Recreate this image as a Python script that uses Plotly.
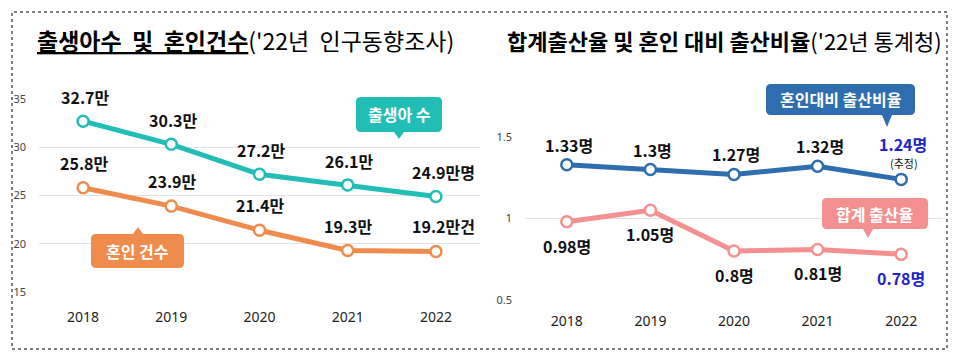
import plotly.graph_objects as go

# ---------------- data ----------------
years = ["2018", "2019", "2020", "2021", "2022"]
births = [32.7, 30.3, 27.2, 26.1, 24.9]          # 출생아 수 (만명)
marriages = [25.8, 23.9, 21.4, 19.3, 19.2]       # 혼인 건수 (만건)
birth_per_marriage = [1.33, 1.30, 1.27, 1.32, 1.24]   # 혼인대비 출산비율
tfr = [0.98, 1.05, 0.80, 0.81, 0.78]                  # 합계출산율

left_ticks = [15, 20, 25, 30, 35]
right_ticks = [0.5, 1, 1.5]

# page body adds an 8px margin, so the figure is sized to fit the window
OFF = 8
W, H = 969 - OFF, 362 - OFF
KR = "Noto Sans CJK KR"

TEAL = "#22BDB5"
ORANGE = "#EE8B4D"
BLUE = "#2E6DAE"
PINK = "#F49090"
DEEPBLUE = "#2124C4"


def px(x):
    return (x - OFF) / W


def py(y):
    return 1 - (y - OFF) / H


def fmt(v):
    return f"{v:.2f}".rstrip("0").rstrip(".")


fig = go.Figure()


def add_line(xs, ys, col, xa, ya):
    fig.add_trace(go.Scatter(x=xs, y=ys, mode="lines+markers", xaxis=xa, yaxis=ya,
                             line=dict(color=col, width=5),
                             marker=dict(size=11, color="white", line=dict(color=col, width=2.5)),
                             cliponaxis=False, hoverinfo="skip"))


add_line(years, births, TEAL, "x", "y")
add_line(years, marriages, ORANGE, "x", "y")
add_line(years, birth_per_marriage, BLUE, "x2", "y2")
add_line(years, tfr, PINK, "x2", "y2")

annotations = []
lab_font = dict(family=KR, size=16, color="#111111")
n = len(years)

# left labels (category positions by index)
for i, v in enumerate(births):
    last = i == n - 1
    annotations.append(dict(x=i, y=v, xref="x", yref="y",
                            text="<b>%s만%s</b>" % (fmt(v), "명" if last else ""),
                            showarrow=False, yanchor="middle", yshift=24, xshift=8 if last else 2,
                            font=lab_font))
for i, v in enumerate(marriages):
    last = i == n - 1
    annotations.append(dict(x=i, y=v, xref="x", yref="y",
                            text="<b>%s만%s</b>" % (fmt(v), "건" if last else ""),
                            showarrow=False, yanchor="middle", yshift=25, xshift=8 if last else 1,
                            font=lab_font))

# right labels
for i, v in enumerate(birth_per_marriage):
    last = i == n - 1
    annotations.append(dict(x=i, y=v, xref="x2", yref="y2", text="<b>%s명</b>" % fmt(v),
                            showarrow=False, yanchor="middle", yshift=35 if last else 20, xshift=2,
                            font=dict(family=KR, size=16, color=DEEPBLUE if last else "#111111")))
    if last:
        annotations.append(dict(x=i, y=v, xref="x2", yref="y2", text="(추정)",
                                showarrow=False, yanchor="middle", yshift=16, xshift=3,
                                font=dict(family=KR, size=11, color="#111111")))
for i, v in enumerate(tfr):
    last = i == n - 1
    annotations.append(dict(x=i, y=v, xref="x2", yref="y2", text="<b>%s명</b>" % fmt(v),
                            showarrow=False, yanchor="middle", yshift=-24, xshift=0,
                            font=dict(family=KR, size=16, color=DEEPBLUE if last else "#111111")))

# titles
annotations.append(dict(xref="paper", yref="paper", x=px(35), y=py(40), xanchor="left", yanchor="middle",
                        showarrow=False,
                        text="<u><b>출생아수\u00a0\u00a0및\u00a0\u00a0혼인건수</b></u>('22년\u00a0\u00a0인구동향조사)",
                        font=dict(family=KR, size=23, color="#000000")))
annotations.append(dict(xref="paper", yref="paper", x=px(505), y=py(40), xanchor="left", yanchor="middle",
                        showarrow=False,
                        text="<b>합계출산율 및 혼인 대비 출산비율</b>('22년 통계청)",
                        font=dict(family=KR, size=22, color="#000000")))


def callout_path(x0, y0, x1, y1, r, tx, ty, direction):
    def P(x, y):
        return "%.5f,%.5f" % (px(x), py(y))

    d = "M" + P(x0 + r, y0)
    if direction == "up":
        d += " L" + P(tx - 5, y0) + " L" + P(tx, ty) + " L" + P(tx + 5, y0)
    d += " L" + P(x1 - r, y0) + " Q" + P(x1, y0) + " " + P(x1, y0 + r)
    d += " L" + P(x1, y1 - r) + " Q" + P(x1, y1) + " " + P(x1 - r, y1)
    if direction == "down":
        d += " L" + P(tx + 5, y1) + " L" + P(tx, ty) + " L" + P(tx - 5, y1)
    d += " L" + P(x0 + r, y1) + " Q" + P(x0, y1) + " " + P(x0, y1 - r)
    d += " L" + P(x0, y0 + r) + " Q" + P(x0, y0) + " " + P(x0 + r, y0) + " Z"
    return d


callouts = [
    ("출생아 수", TEAL, (356, 97, 442, 132, 5, 399, 139, "down")),
    ("혼인 건수", ORANGE, (91, 234, 184, 268, 5, 138, 227, "up")),
    ("혼인대비 출산비율", BLUE, (766, 84, 915, 115, 5, 887, 127, "down")),
    ("합계 출산율", PINK, (822, 198, 928, 229, 5, 868, 238, "down")),
]
shapes = []
for text, col, geo in callouts:
    x0, y0, x1, y1 = geo[:4]
    shapes.append(dict(type="path", xref="paper", yref="paper", path=callout_path(*geo),
                       fillcolor=col, line=dict(width=0), layer="above"))
    annotations.append(dict(xref="paper", yref="paper", x=px((x0 + x1) / 2), y=py((y0 + y1) / 2),
                            xanchor="center", yanchor="middle", showarrow=False,
                            text="<b>%s</b>" % text, font=dict(family=KR, size=16, color="white")))

# dotted frame
shapes.append(dict(type="rect", xref="paper", yref="paper", x0=px(12), x1=px(947), y0=py(349), y1=py(12),
                   line=dict(color="#000000", width=1, dash="dot"), layer="below"))

axis_common = dict(showline=False, zeroline=False, ticks="", fixedrange=True, automargin=False)

fig.update_layout(
    width=W, height=H,
    margin=dict(l=0, r=0, t=0, b=0),
    paper_bgcolor="white", plot_bgcolor="white",
    showlegend=False,
    xaxis=dict(domain=[px(39), px(480)], anchor="y", type="category", range=[-0.5, 4.5],
               showgrid=False, tickfont=dict(family="Noto Sans", size=14, color="#222222"),
               ticklabelstandoff=15, **axis_common),
    yaxis=dict(domain=[py(292), py(99)], anchor="x", range=[15, 35], tickvals=left_ticks,
               showgrid=True, gridcolor="#E3E3E3", gridwidth=1,
               tickfont=dict(family="Noto Sans", size=11, color="#444444"),
               ticklabelstandoff=12, **axis_common),
    xaxis2=dict(domain=[px(525), px(943)], anchor="y2", type="category", range=[-0.5, 4.5],
                showgrid=False, tickfont=dict(family="Noto Sans", size=14, color="#222222"),
                ticklabelstandoff=11, **axis_common),
    yaxis2=dict(domain=[py(300), py(137)], anchor="x2", range=[0.5, 1.5], tickvals=right_ticks,
                showgrid=True, gridcolor="#E3E3E3", gridwidth=1,
                tickfont=dict(family="Noto Sans", size=11, color="#444444"),
                ticklabelstandoff=12, **axis_common),
    annotations=annotations,
    shapes=shapes,
)

fig.write_html("out.html")
